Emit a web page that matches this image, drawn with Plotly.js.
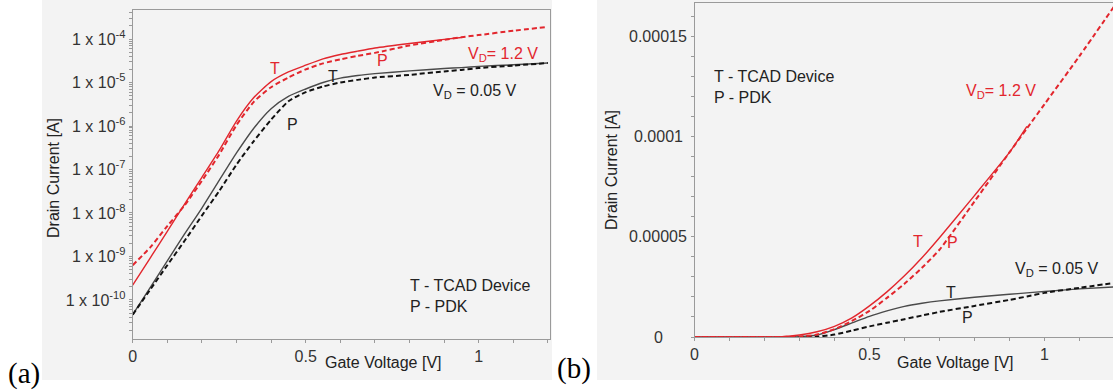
<!DOCTYPE html>
<html><head><meta charset="utf-8">
<script src="https://cdn.plot.ly/plotly-3.0.1.min.js"></script>
<style>html,body{margin:0;padding:0;background:#fff}#c{width:1113px;height:390px}</style>
</head><body><div id="c"></div>
<script>
// Gate voltage grid [V]
const V = [0, 0.05, 0.1, 0.15, 0.2, 0.25, 0.3, 0.35, 0.4, 0.45, 0.5, 0.55, 0.6, 0.65, 0.7, 0.8, 0.9, 0.95, 1.0, 1.1, 1.2];

// Panel (a): log scale drain current [A]
const a_T12  = [2.2e-10, 9.1e-10, 3.8e-9, 1.6e-8, 6.6e-8, 2.75e-7, 1.3e-6, 4.5e-6, 1.05e-5, 1.75e-5, 2.5e-5, 3.5e-5, 4.4e-5, 5.25e-5, 6.2e-5, 7.9e-5, 9.8e-5, 1.08e-4];
const a_P12  = [6.3e-10, 1.6e-9, 5e-9, 1.5e-8, 5.5e-8, 2.2e-7, 1.05e-6, 3.6e-6, 7.8e-6, 1.3e-5, 2.0e-5, 2.75e-5, 3.4e-5, 4.1e-5, 4.8e-5, 7.1e-5, 9.5e-5, 1.1e-4, 1.23e-4, 1.55e-4, 1.9e-4];
const a_T005 = [4.6e-11, 1.9e-10, 7.9e-10, 3.3e-9, 1.3e-8, 5.6e-8, 2.4e-7, 8.9e-7, 2.5e-6, 4.8e-6, 7.1e-6, 1.0e-5, 1.26e-5, 1.45e-5, 1.6e-5, 1.85e-5, 2.1e-5, 2.2e-5, 2.35e-5, 2.55e-5, 2.8e-5];
const a_P005 = [4.6e-11, 1.7e-10, 6.3e-10, 2.3e-9, 8.7e-9, 3.2e-8, 1.3e-7, 4.5e-7, 1.4e-6, 3.7e-6, 6.0e-6, 8.1e-6, 1.0e-5, 1.15e-5, 1.3e-5, 1.5e-5, 1.8e-5, 1.95e-5, 2.15e-5, 2.45e-5, 2.8e-5];

// Panel (b): linear scale drain current [A]
const b_T12  = [0, 0, 0, 1e-9, 1e-8, 1.5e-7, 1.0e-6, 2.6e-6, 5.3e-6, 9.5e-6, 1.55e-5, 2.25e-5, 3.05e-5, 3.95e-5, 4.95e-5, 7.05e-5, 9.2e-5, 1.05e-4];
const b_P12  = [0, 0, 0, 1e-9, 5e-9, 5e-8, 2e-7, 1.2e-6, 3.9e-6, 8e-6, 1.3e-5, 1.95e-5, 2.65e-5, 3.45e-5, 4.35e-5, 6.75e-5, 9.2e-5, 1.04e-4, 1.16e-4, 1.4e-4, 1.65e-4];
const b_T005 = [0, 0, 0, 0, 1e-8, 5e-8, 2e-7, 1.0e-6, 3.7e-6, 7e-6, 1.03e-5, 1.3e-5, 1.53e-5, 1.68e-5, 1.8e-5, 1.98e-5, 2.13e-5, 2.2e-5, 2.27e-5, 2.4e-5, 2.5e-5];
const b_P005 = [0, 0, 0, 0, 0, 1e-8, 5e-8, 2e-7, 1.2e-6, 3.2e-6, 5.3e-6, 7.1e-6, 8.9e-6, 1.07e-5, 1.25e-5, 1.55e-5, 1.85e-5, 2.02e-5, 2.2e-5, 2.45e-5, 2.7e-5];

// Tick labels
const logTickVals = [1e-10, 1e-9, 1e-8, 1e-7, 1e-6, 1e-5, 1e-4];
const logTickText = ['1 x 10<sup>-10</sup>', '1 x 10<sup>-9</sup>', '1 x 10<sup>-8</sup>', '1 x 10<sup>-7</sup>', '1 x 10<sup>-6</sup>', '1 x 10<sup>-5</sup>', '1 x 10<sup>-4</sup>'];
const linTickVals = [0, 0.00005, 0.0001, 0.00015];
const linTickText = ['0', '0.00005', '0.0001', '0.00015'];

const RED = '#e2262d', BLK = '#111111', GRY = '#4a4a4a';
const W = 1113, H = 390;
const px = x => x / W, py = y => 1 - y / H;
const FONT = 'Liberation Sans, Arial, sans-serif';
const FS = 16;

function line(x, y, color, width, dash, xa, ya) {
  return {x: x, y: y, xaxis: xa, yaxis: ya, mode: 'lines', hoverinfo: 'skip',
    line: {color: color, width: width, dash: dash, shape: 'spline', smoothing: 0.6}};
}

const traces = [
  line(V.slice(0, a_T005.length), a_T005, GRY, 1.4, 'solid', 'x', 'y'),
  line(V, a_P005, BLK, 2, '5px,3px', 'x', 'y'),
  line(V.slice(0, a_T12.length), a_T12, RED, 1.4, 'solid', 'x', 'y'),
  line(V, a_P12, RED, 2, '5px,3px', 'x', 'y'),
  line(V.slice(0, b_T005.length), b_T005, GRY, 1.4, 'solid', 'x2', 'y2'),
  line(V, b_P005, BLK, 2, '5px,3px', 'x2', 'y2'),
  line(V.slice(0, b_T12.length), b_T12, RED, 1.4, 'solid', 'x2', 'y2'),
  line(V, b_P12, RED, 2, '5px,3px', 'x2', 'y2')
];

// minor log ticks
const logMinor = [];
for (let e = -11; e <= -4; e++) for (let m = 1; m <= 9; m++) logMinor.push(m * Math.pow(10, e));
const logAllText = logMinor.map(v => {
  const i = logTickVals.findIndex(t => Math.abs(t - v) / t < 1e-6);
  return i >= 0 ? logTickText[i] : '';
});

const axCommon = {showgrid: false, zeroline: false, showline: true, linecolor: '#9a9a9a', linewidth: 1,
  ticks: 'outside', ticklen: 3, tickcolor: '#9a9a9a', tickfont: {family: FONT, size: FS, color: '#333'}, automargin: false};

const layout = {
  width: W, height: H, margin: {l: 0, r: 0, t: 0, b: 0},
  paper_bgcolor: '#ffffff', plot_bgcolor: 'rgba(0,0,0,0)', showlegend: false,
  font: {family: FONT, size: FS, color: '#333'},
  xaxis: Object.assign({}, axCommon, {domain: [px(132.7), px(550)], range: [0, 1.206], anchor: 'y', mirror: true,
    tickmode: 'linear', tick0: 0, dtick: 0.5,
    minor: {dtick: 0.1, tick0: 0, ticklen: 3, tickcolor: '#9a9a9a', ticks: 'outside', showgrid: false}}),
  yaxis: Object.assign({}, axCommon, {domain: [py(339), py(10)], type: 'log', range: [-10.897, -3.333], anchor: 'x', mirror: true,
    tickmode: 'array', tickvals: logMinor, ticktext: logAllText}),
  xaxis2: Object.assign({}, axCommon, {domain: [px(694.5), 1], range: [0, 1.196], anchor: 'y2', mirror: true,
    tickmode: 'linear', tick0: 0, dtick: 0.5,
    minor: {dtick: 0.1, tick0: 0, ticklen: 3, tickcolor: '#9a9a9a', ticks: 'outside', showgrid: false}}),
  yaxis2: Object.assign({}, axCommon, {domain: [py(337), py(3)], range: [0, 0.0001665], anchor: 'x2', mirror: false,
    tickmode: 'array', tickvals: linTickVals, ticktext: linTickVals.map(() => ''),
    minor: {dtick: 0.00001, tick0: 0, ticklen: 3, tickcolor: '#9a9a9a', ticks: 'outside', showgrid: false}}),
  shapes: [
    {type: 'rect', xref: 'paper', yref: 'paper', x0: px(42), x1: px(552), y0: py(380), y1: 1, fillcolor: '#f3f3f3', line: {width: 0}, layer: 'below'},
    {type: 'rect', xref: 'paper', yref: 'paper', x0: px(597), x1: 1, y0: py(380), y1: 1, fillcolor: '#f3f3f3', line: {width: 0}, layer: 'below'}
  ],
  annotations: []
};

function ann(text, x, y, opts) {
  layout.annotations.push(Object.assign({text: text, xref: 'paper', yref: 'paper', x: px(x), y: py(y),
    xanchor: 'center', yanchor: 'middle', showarrow: false, font: {family: FONT, size: FS, color: '#222'}}, opts || {}));
}
const redFont = {family: FONT, size: FS, color: RED};

// right panel y tick labels (centered as in the reference)
linTickVals.forEach((v, i) => {
  layout.annotations.push({text: linTickText[i], xref: 'paper', yref: 'y2', x: px(658), y: v,
    xanchor: 'center', yanchor: 'middle', showarrow: false, font: {family: FONT, size: FS, color: '#333'}});
});

// axis titles
ann('Gate Voltage [V]', 383, 362);
ann('Gate Voltage [V]', 955, 362);
ann('Drain Current [A]', 54, 178, {textangle: -90});
ann('Drain Current [A]', 611, 170, {textangle: -90});

// panel (a) labels
ann('T', 275, 68, {font: redFont});
ann('P', 382, 60, {font: redFont});
ann('V<sub>D</sub>= 1.2 V', 503, 55, {font: redFont});
ann('T', 333, 77);
ann('P', 292, 125);
ann('V<sub>D</sub> = 0.05 V', 475, 91);
ann('T - TCAD Device<br>P - PDK', 408, 296, {xanchor: 'left', align: 'left'});

// panel (b) labels
ann('T - TCAD Device<br>P - PDK', 712, 87, {xanchor: 'left', align: 'left'});
ann('V<sub>D</sub>= 1.2 V', 1001, 91, {font: redFont});
ann('T', 918, 241, {font: redFont});
ann('P', 952, 242, {font: redFont});
ann('V<sub>D</sub> = 0.05 V', 1057, 269);
ann('T', 951, 292);
ann('P', 967, 317);

// panel letters
ann('(a)', 24, 373, {font: {family: 'Liberation Serif, Times New Roman, serif', size: 29, color: '#000'}});
ann('(b)', 574, 368, {font: {family: 'Liberation Serif, Times New Roman, serif', size: 29, color: '#000'}});

Plotly.newPlot('c', traces, layout, {staticPlot: true, displayModeBar: false});
</script>
</body></html>
